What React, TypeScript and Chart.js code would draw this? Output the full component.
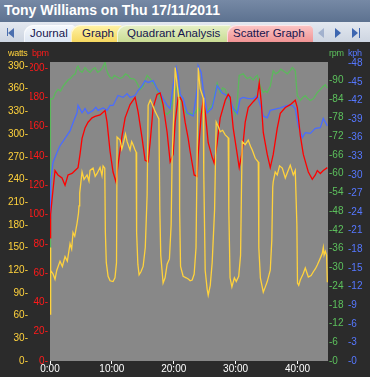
import React, { useEffect, useRef } from "react";
import { Chart, registerables } from "chart.js";
Chart.register(...registerables);

const TITLE = "Tony Williams on Thu 17/11/2011";
const TABS = ["Journal", "Graph", "Quadrant Analysis", "Scatter Graph"];
const AXIS_NAMES = ["watts", "bpm", "rpm", "kph"];

const wattsTicks = [0, 30, 60, 90, 120, 150, 180, 210, 240, 270, 300, 330, 360, 390];
const bpmTicks = [0, 20, 40, 60, 80, 100, 120, 140, 160, 180, 200];
const rpmTicks = [0, 6, 12, 18, 24, 30, 36, 42, 48, 54, 60, 66, 72, 78, 84, 90];
const kphTicks = [0, 3, 6, 9, 12, 15, 18, 21, 24, 27, 30, 33, 36, 39, 42, 45, 48];
const timeTicks = [0, 10, 20, 30, 40];

// [minutes, watts]
const wattsPoints = [
  [0, 62], [0.05, 150], [0.16, 120], [0.5, 115], [0.81, 108], [1.1, 120], [1.62, 132], [2.0, 125],
  [2.43, 138], [2.8, 132], [3.24, 155], [3.5, 148], [3.72, 170], [4.0, 165], [4.37, 182], [4.6, 195],
  [4.69, 205], [4.8, 222], [5.18, 250], [5.5, 240], [5.99, 246], [6.3, 238], [6.47, 252], [6.96, 255],
  [7.3, 244], [7.61, 248], [8.09, 256], [8.4, 245], [8.58, 258], [8.85, 255], [8.95, 170], [9.1, 130],
  [9.39, 112], [9.71, 106], [10.19, 105], [10.5, 110], [10.75, 130], [10.84, 296], [11.33, 292],
  [11.6, 280], [11.81, 286], [12.2, 300], [12.46, 290], [12.94, 279], [13.2, 290], [13.43, 286],
  [13.7, 280], [13.92, 276], [14.0, 170], [14.2, 128], [14.4, 114], [14.7, 118], [15.05, 125],
  [15.4, 150], [15.7, 220], [15.86, 338], [16.2, 345], [16.5, 340], [16.99, 330], [17.3, 325],
  [17.6, 320], [17.75, 200], [17.9, 140], [18.28, 103], [18.6, 110], [18.93, 128], [19.3, 135],
  [19.58, 180], [19.74, 270], [20.06, 340], [20.23, 388], [20.55, 365], [20.87, 345], [20.95, 200],
  [21.1, 125], [21.52, 112], [22.01, 110], [22.4, 108], [22.65, 106], [22.98, 107], [23.3, 115],
  [23.6, 150], [23.79, 280], [23.95, 388], [24.27, 360], [24.6, 352], [24.76, 348], [24.85, 250],
  [25.08, 120], [25.4, 95], [25.57, 87], [25.9, 100], [26.21, 130], [26.6, 200], [26.86, 316],
  [27.2, 310], [27.51, 303], [27.9, 305], [28.32, 299], [28.8, 295], [28.9, 200], [29.1, 110],
  [29.4, 98], [29.8, 110], [30.1, 105], [30.5, 112], [30.8, 140], [30.95, 230], [31.07, 290],
  [31.55, 286], [32.04, 292], [32.4, 284], [32.69, 279], [33.17, 268], [33.66, 263], [33.75, 150],
  [34.0, 110], [34.47, 91], [34.8, 98], [35.11, 105], [35.6, 120], [35.85, 160], [36.0, 230],
  [36.08, 237], [36.4, 250], [36.73, 246], [37.1, 258], [37.54, 255], [38.03, 242], [38.4, 250],
  [38.83, 259], [39.1, 252], [39.32, 246], [39.64, 252], [39.9, 180], [40.0, 103], [40.2, 100],
  [40.45, 107], [40.9, 115], [41.26, 123], [41.75, 111], [42.2, 113], [42.56, 118], [42.9, 122],
  [43.2, 127], [43.69, 136], [44.0, 142], [44.17, 150], [44.3, 140], [44.5, 145], [44.7, 140], [44.82, 104],
];

// [minutes, bpm]
const hrPoints = [
  [0, 84], [0.1, 100], [0.32, 110], [0.81, 130], [1.29, 127], [1.94, 125], [2.43, 120], [2.91, 127],
  [3.56, 128], [4.05, 130], [4.53, 132], [4.85, 141], [5.18, 152], [5.66, 159], [6.15, 163], [6.8, 166],
  [7.28, 167], [8.09, 168], [8.9, 171], [9.22, 163], [9.71, 143], [10.19, 129], [10.68, 122], [11.0, 134],
  [11.65, 154], [12.14, 166], [12.94, 175], [13.75, 180], [14.24, 170], [14.89, 152], [15.37, 137],
  [15.86, 136], [16.18, 149], [16.67, 173], [17.31, 182], [17.8, 183], [18.28, 175], [18.93, 156],
  [19.42, 136], [19.9, 141], [20.23, 163], [20.71, 180], [21.04, 180], [21.36, 177], [21.84, 163],
  [22.33, 152], [22.65, 143], [23.3, 127], [23.79, 126], [23.95, 141], [24.43, 168], [24.76, 178],
  [25.08, 170], [25.57, 149], [26.21, 139], [26.54, 135], [27.02, 149], [27.51, 166], [28.32, 178],
  [28.8, 182], [29.13, 180], [29.61, 159], [30.26, 141], [30.58, 132], [31.07, 143], [31.55, 163],
  [32.04, 173], [32.85, 177], [33.5, 180], [33.82, 190], [34.14, 177], [34.47, 156], [35.11, 141],
  [35.6, 132], [36.08, 141], [36.73, 159], [37.22, 169], [38.03, 173], [38.83, 175], [39.64, 178],
  [39.97, 173], [40.45, 154], [40.94, 141], [41.75, 129], [42.39, 124], [42.88, 127], [43.2, 130],
  [43.69, 128], [44.17, 130], [44.82, 132],
];

// [minutes, rpm]
const cadencePoints = [
  [0, 20], [0.08, 84], [0.49, 84], [0.9, 86], [1.29, 87], [1.7, 86.5], [2.1, 88], [2.5, 89], [2.91, 90],
  [3.3, 90.5], [3.72, 91.5], [4.1, 92], [4.37, 94], [4.53, 94.5], [4.85, 93], [5.18, 92.5], [5.66, 94],
  [6.1, 93], [6.47, 92.5], [6.9, 93.5], [7.28, 94], [7.7, 92.5], [8.09, 93], [8.5, 94], [8.9, 95.7],
  [9.1, 93.5], [9.39, 92], [9.7, 91], [10.03, 90.5], [10.4, 91.5], [10.84, 91], [11.3, 90.5], [11.81, 91],
  [12.2, 92], [12.62, 91.5], [13.0, 90.5], [13.43, 90.5], [13.8, 90], [14.08, 89], [14.56, 87],
  [15.05, 88], [15.4, 90], [15.7, 91.5], [16.18, 90.5], [16.67, 89], [17.0, 88.5], [17.31, 87],
  [17.8, 84.5], [18.28, 81], [18.6, 79.5], [18.93, 79], [19.42, 80], [19.9, 84], [20.2, 86.5],
  [20.55, 88], [21.04, 84.5], [21.52, 81], [22.17, 79], [22.6, 79.5], [22.98, 79], [23.46, 79.5],
  [23.95, 81], [24.3, 80], [24.76, 79.5], [25.4, 80], [25.8, 81], [26.21, 82], [26.6, 85], [27.02, 89],
  [27.51, 86], [27.9, 87.5], [28.32, 87], [28.8, 84], [29.45, 82], [29.94, 79], [30.26, 83],
  [30.58, 91.5], [31.23, 92], [31.6, 91], [31.88, 90.5], [32.36, 91], [32.85, 90], [33.2, 91],
  [33.5, 91.5], [33.98, 88], [34.47, 86], [34.8, 86.5], [35.11, 86], [35.6, 88], [36.08, 93],
  [36.5, 92], [36.89, 92.5], [37.3, 93.5], [37.7, 93], [38.35, 92], [38.8, 93], [39.16, 94],
  [39.64, 93], [39.97, 85], [40.45, 83.5], [40.9, 84.5], [41.26, 85], [41.7, 84], [42.07, 83.5],
  [42.56, 84], [42.9, 85], [43.2, 86], [43.69, 87], [44.17, 88], [44.5, 88.5], [44.82, 87.5],
];

// [minutes, kph]
const speedPoints = [
  [0, 23], [0.1, 28.8], [0.49, 32], [1.13, 33.6], [1.62, 34.7], [2.43, 35.9], [3.24, 37.1], [3.72, 38.4],
  [4.37, 40], [4.53, 41.2], [5.18, 40], [5.66, 40.7], [6.15, 39.9], [6.96, 40.4], [7.4, 40.9],
  [7.77, 40.4], [8.58, 40.8], [9.22, 40.4], [9.71, 41.2], [10.19, 41.2], [11.0, 42.8], [11.81, 42.5],
  [12.46, 43.1], [12.94, 42.5], [13.75, 42.8], [14.24, 43.6], [14.89, 44.4], [15.37, 45.2],
  [15.86, 44.9], [16.67, 45.2], [17.31, 43.9], [17.8, 43.2], [18.28, 42.3], [18.93, 41.2],
  [19.42, 40.7], [19.9, 44.4], [20.39, 47.3], [20.71, 46], [21.04, 43], [21.52, 42.3], [22.17, 40],
  [23.14, 39.5], [23.79, 43.9], [23.95, 47.6], [24.43, 46.5], [24.76, 43.9], [25.4, 40], [26.21, 40.8],
  [27.02, 44.4], [27.83, 43.2], [28.64, 42.8], [29.13, 42], [29.61, 40.7], [30.26, 39.9], [30.74, 42.3],
  [31.23, 42.5], [32.04, 42.3], [32.85, 42.3], [33.5, 42.8], [33.98, 41.2], [34.47, 39.5],
  [35.11, 39.2], [35.6, 40.4], [36.41, 40.6], [37.22, 40.8], [38.35, 41.2], [39.16, 41.2],
  [39.64, 40.7], [40.13, 37.9], [40.78, 36], [41.26, 36.8], [42.07, 36.7], [42.88, 37.5],
  [43.69, 37.6], [44.17, 39.1], [44.82, 37.9],
];

const YELLOW = "#ffd23c";
const RED = "#ff0000";
const GREEN = "#5cb85c";
const BLUE = "#4a6cff";

const toXY = (pts: number[][]) => pts.map(([x, y]) => ({ x, y }));

const plotBg = {
  id: "plotBg",
  beforeDraw(chart: any) {
    const { ctx, chartArea: a } = chart;
    ctx.save();
    ctx.fillStyle = "#888888";
    ctx.fillRect(a.left, a.top, a.right - a.left, a.bottom - a.top);
    ctx.restore();
  },
};

function yAxis(ticksArr: number[], max: number, pos: string, weight: number, color: string, width: number, pad: number, fmt: (v: any) => string) {
  return {
    type: "linear",
    position: pos,
    weight,
    min: 0,
    max,
    grid: { display: false, drawTicks: false },
    border: { display: false },
    afterBuildTicks: (s: any) => {
      s.ticks = ticksArr.map((v) => ({ value: v }));
    },
    afterFit: (s: any) => {
      s.width = width;
    },
    ticks: { color, padding: pad, autoSkip: false, font: { size: 10 }, callback: fmt },
  };
}

function ChartView() {
  const ref = useRef<HTMLCanvasElement | null>(null);
  useEffect(() => {
    if (!ref.current) return;
    Chart.defaults.font.family = "'Liberation Sans', Arial, sans-serif";
    const ds = (label: string, pts: number[][], axis: string, color: string) => ({
      label,
      data: toXY(pts),
      yAxisID: axis,
      borderColor: color,
      backgroundColor: color,
      borderWidth: 1.3,
      pointRadius: 0,
      tension: 0,
      fill: false,
    });
    const chart = new Chart(ref.current, {
      type: "line",
      data: {
        datasets: [
          ds("watts", wattsPoints, "yW", YELLOW),
          ds("bpm", hrPoints, "yH", RED),
          ds("kph", speedPoints, "yK", BLUE),
          ds("rpm", cadencePoints, "yR", GREEN),
        ],
      },
      options: {
        animation: false,
        responsive: false,
        devicePixelRatio: 1,
        layout: { padding: { left: 0, right: 0, top: 20, bottom: 0 } },
        plugins: { legend: { display: false }, tooltip: { enabled: false } },
        scales: {
          x: {
            type: "linear",
            min: 0,
            max: 44.93,
            grid: { display: true, drawOnChartArea: false, drawTicks: true, tickLength: 3, color: "#ffffff" },
            border: { display: false },
            afterBuildTicks: (s: any) => {
              s.ticks = timeTicks.map((v) => ({ value: v }));
            },
            afterFit: (s: any) => {
              s.height = 16;
            },
            ticks: {
              color: "#ffffff",
              padding: -1,
              maxRotation: 0,
              autoSkip: false,
              font: { size: 10 },
              callback: (v: any) => `${v}:00`,
            },
          },
          yW: yAxis(wattsTicks, 395.3, "left", 2, "#ffd23c", 30, 2, (v) => `${v}-`),
          yH: yAxis(bpmTicks, 204.1, "left", 1, "#ff1a1a", 20, 2, (v) => `${v}-`),
          yR: yAxis(rpmTicks, 95.8, "right", 1, "#5cc05c", 20, 1, (v) => `-${v}`),
          yK: yAxis(kphTicks, 48.2, "right", 2, "#5577ff", 22, 0, (v) => `-${v}`),
        } as any,
      },
      plugins: [plotBg],
    } as any);
    return () => chart.destroy();
  }, []);
  return (
    <canvas
      ref={ref}
      width={370}
      height={335}
      style={{ position: "absolute", left: 0, top: 42, width: 370, height: 335, display: "block", background: "#2b2b2b" }}
    />
  );
}

const tabStyles = [
  { left: 24, width: 52, bg: "linear-gradient(#f6f9fd, #dde6f3)", textLeft: 6 },
  { left: 71, width: 53, bg: "linear-gradient(#fff3a8, #f6d860)", textLeft: 11 },
  { left: 117, width: 116, bg: "linear-gradient(#e6f0c6, #c9dc94)", textLeft: 10 },
  { left: 227, width: 86, bg: "linear-gradient(#fcc6c6, #f09494)", textLeft: 6 },
];

export default function App() {
  const tri = (left: number, dir: "l" | "r", color: string, outline?: boolean) => (
    <div
      style={{
        position: "absolute",
        left,
        top: 28,
        width: 0,
        height: 0,
        borderTop: "5px solid transparent",
        borderBottom: "5px solid transparent",
        ...(dir === "l" ? { borderRight: `6px solid ${color}` } : { borderLeft: `6px solid ${color}` }),
        opacity: outline ? 0.6 : 1,
      }}
    />
  );
  return (
    <div
      style={{
        position: "fixed",
        left: 0,
        top: 0,
        width: 370,
        height: 377,
        overflow: "hidden",
        background: "#2b2b2b",
        fontFamily: "'Liberation Sans', Arial, sans-serif",
      }}
    >
      <div
        style={{
          position: "absolute",
          left: 0,
          top: 0,
          width: 370,
          height: 22,
          background: "linear-gradient(#7689a5, #5d7290)",
          color: "#ffffff",
          fontWeight: "bold",
          fontSize: 14,
          lineHeight: "21px",
          paddingLeft: 4,
          boxSizing: "border-box",
          whiteSpace: "nowrap",
        }}
      >
        {TITLE}
      </div>
      <div
        style={{
          position: "absolute",
          left: 0,
          top: 22,
          width: 370,
          height: 20,
          background: "linear-gradient(#e3e8f0, #cdd5e1)",
        }}
      >
        <div style={{ position: "absolute", left: 7, top: 6, width: 1, height: 8, background: "#4b6fae" }} />
      </div>
      {tri(8, "l", "#4b6fae")}
      {TABS.map((t, i) => (
        <div
          key={t}
          style={{
            position: "absolute",
            left: tabStyles[i].left,
            top: 25,
            width: tabStyles[i].width,
            height: 17,
            background: tabStyles[i].bg,
            borderRadius: "9px 5px 0 0",
            color: "#15154e",
            fontSize: 11.5,
            lineHeight: "17px",
            paddingLeft: tabStyles[i].textLeft,
            boxSizing: "border-box",
            whiteSpace: "nowrap",
            boxShadow: "inset 1px 1px 0 rgba(255,255,255,0.6)",
          }}
        >
          {t}
        </div>
      ))}
      {tri(318, "l", "#7f94bd", true)}
      {tri(335, "r", "#3d66b0")}
      {tri(352, "r", "#3d66b0")}
      <div style={{ position: "absolute", left: 359, top: 28, width: 1, height: 10, background: "#3d66b0" }} />
      <ChartView />
      {AXIS_NAMES.map((n, i) => (
        <div
          key={n}
          style={{
            position: "absolute",
            left: [8, 32, 329, 348][i],
            top: 47,
            fontSize: 9,
            letterSpacing: "-0.3px",
            lineHeight: "12px",
            color: ["#ffd23c", "#ff1a1a", "#5cc05c", "#5577ff"][i],
            whiteSpace: "nowrap",
          }}
        >
          {n}
        </div>
      ))}
    </div>
  );
}
